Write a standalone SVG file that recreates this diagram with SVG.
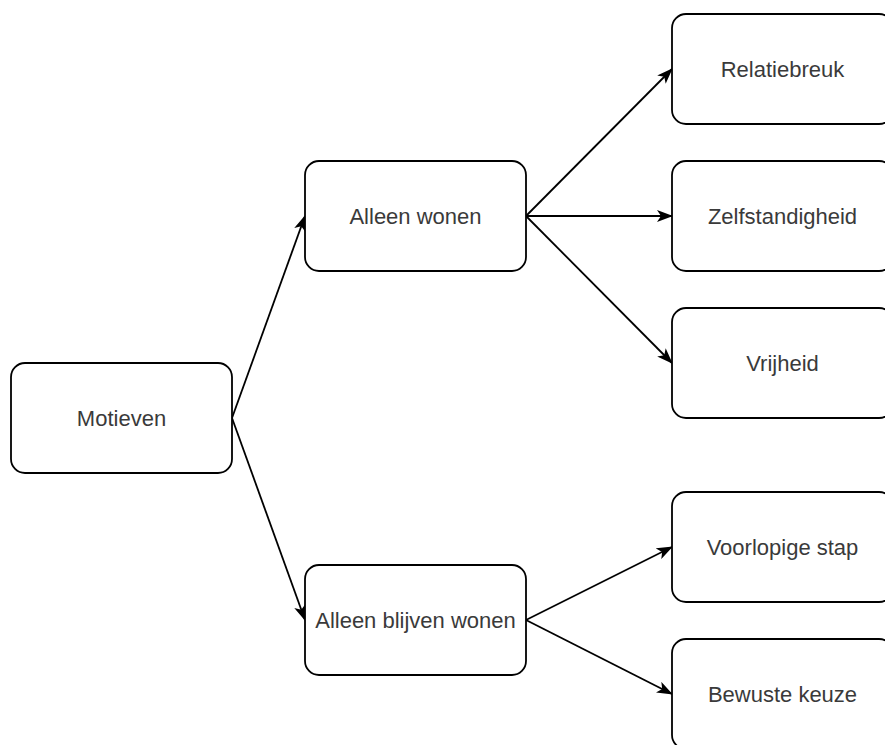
<svg xmlns="http://www.w3.org/2000/svg" width="885" height="745" viewBox="0 0 885 745">
<defs>
<style>
.box{fill:#fff;stroke:#000;stroke-width:1.8}
.lbl{font-family:"Liberation Sans",Arial,sans-serif;font-size:22px;fill:#3a3a3a;text-anchor:middle}
.edge{fill:none;stroke:#000;stroke-width:1.8}
</style>
<marker id="arr" viewBox="0 0 16 12" refX="15" refY="6" markerWidth="16" markerHeight="12" markerUnits="userSpaceOnUse" orient="auto">
<path d="M0,0 L16,6 L0,12 L4,6 Z" fill="#000"/>
</marker>
</defs>
<rect width="885" height="745" fill="#fff"/>
<g id="connectors">
<line class="edge" x1="232" y1="418" x2="305" y2="216" marker-end="url(#arr)"/>
<line class="edge" x1="232" y1="418" x2="305" y2="620" marker-end="url(#arr)"/>
<line class="edge" x1="526" y1="216" x2="672" y2="69" marker-end="url(#arr)"/>
<line class="edge" x1="526" y1="216" x2="672" y2="216" marker-end="url(#arr)"/>
<line class="edge" x1="526" y1="216" x2="672" y2="363" marker-end="url(#arr)"/>
<line class="edge" x1="526" y1="620" x2="672" y2="547" marker-end="url(#arr)"/>
<line class="edge" x1="526" y1="620" x2="672" y2="694" marker-end="url(#arr)"/>
</g>
<g id="motieven"><rect class="box" x="11" y="363" width="221" height="110" rx="14"/><text class="lbl" x="121.5" y="426">Motieven</text></g>
<g id="alleen-wonen"><rect class="box" x="305" y="161" width="221" height="110" rx="14"/><text class="lbl" x="415.5" y="224">Alleen wonen</text></g>
<g id="alleen-blijven-wonen"><rect class="box" x="305" y="565" width="221" height="110" rx="14"/><text class="lbl" x="415.5" y="628">Alleen blijven wonen</text></g>
<g id="relatiebreuk"><rect class="box" x="672" y="14" width="221" height="110" rx="14"/><text class="lbl" x="782.5" y="77">Relatiebreuk</text></g>
<g id="zelfstandigheid"><rect class="box" x="672" y="161" width="221" height="110" rx="14"/><text class="lbl" x="782.5" y="224">Zelfstandigheid</text></g>
<g id="vrijheid"><rect class="box" x="672" y="308" width="221" height="110" rx="14"/><text class="lbl" x="782.5" y="371">Vrijheid</text></g>
<g id="voorlopige-stap"><rect class="box" x="672" y="492" width="221" height="110" rx="14"/><text class="lbl" x="782.5" y="555">Voorlopige stap</text></g>
<g id="bewuste-keuze"><rect class="box" x="672" y="639" width="221" height="110" rx="14"/><text class="lbl" x="782.5" y="702">Bewuste keuze</text></g>
</svg>
